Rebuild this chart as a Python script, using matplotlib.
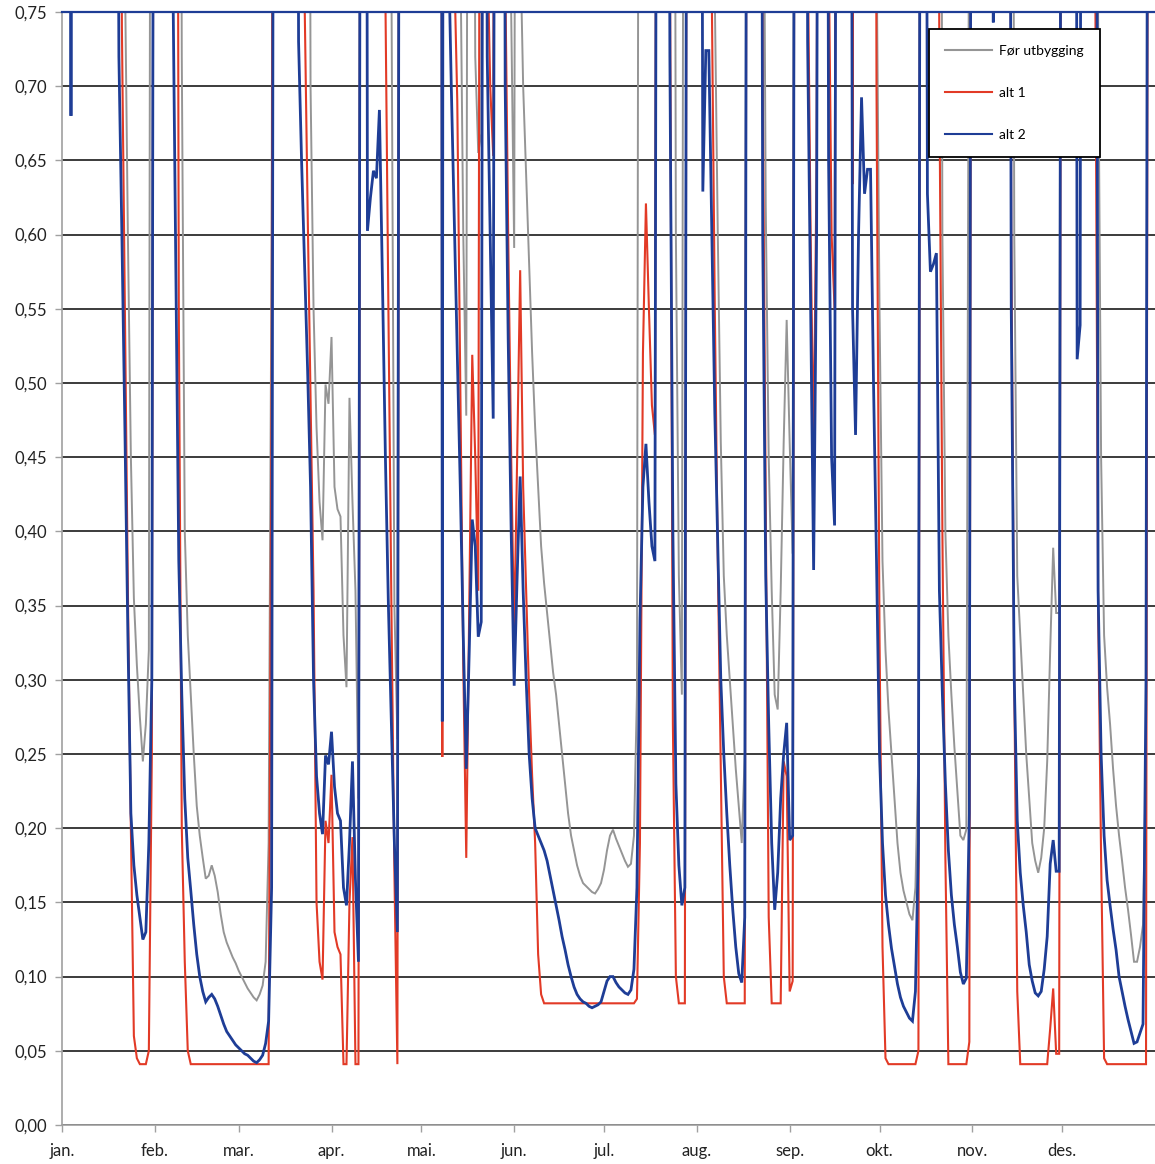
import matplotlib
matplotlib.use("Agg")
import matplotlib.pyplot as plt
from matplotlib.ticker import FuncFormatter, MultipleLocator

plt.rcParams['font.family'] = ['Lato', 'DejaVu Sans']

# day of year (0 = 1 Jan) and value; values above 0.75 run off the top of the chart
gray_pts = [
    (0, 1.5), (20, 1.5),
    (21, 0.78), (22, 0.60), (23, 0.45), (24, 0.355), (25, 0.31), (26, 0.275), (27, 0.245),
    (28, 0.27), (29, 0.32), (30, 1.5),
    (39, 1.5), (40, 0.72), (41, 0.40), (42, 0.33), (43, 0.29), (44, 0.25), (45, 0.215),
    (46, 0.195), (47, 0.18), (48, 0.166), (49, 0.168), (50, 0.175), (51, 0.168), (52, 0.157),
    (53, 0.142), (54, 0.13), (55, 0.123), (56, 0.118), (57, 0.113), (58, 0.109), (59, 0.104),
    (60, 0.10), (61, 0.096), (62, 0.092), (63, 0.089), (64, 0.086), (65, 0.084), (66, 0.088),
    (67, 0.094), (68, 0.11), (69, 0.19), (70, 0.60), (71, 1.5),
    (82, 1.5), (83, 0.70), (84, 0.55), (85, 0.47), (86, 0.42), (87, 0.394), (88, 0.499),
    (89, 0.486), (90, 0.531), (91, 0.43), (92, 0.415), (93, 0.41), (94, 0.33), (95, 0.295),
    (96, 0.49), (97, 0.42), (98, 0.36), (99, 0.22), (100, 1.5),
    (109, 1.5), (110, 0.78), (111, 0.35), (112, 0.26), (113, 1.5),
    (132, 1.5), (133, 0.80), (134, 0.60), (135, 0.478), (136, 1.5),
    (137, 1.2), (138, 0.72), (139, 0.655), (140, 0.668), (141, 1.5),
    (149, 1.5), (150, 0.75), (151, 0.591), (152, 1.5), (153, 0.80), (154, 0.70), (155, 0.64),
    (156, 0.58), (157, 0.52), (158, 0.47), (159, 0.43), (160, 0.39), (161, 0.365), (162, 0.345),
    (163, 0.325), (164, 0.305), (165, 0.29), (166, 0.27), (167, 0.25), (168, 0.23), (169, 0.21),
    (170, 0.195), (171, 0.185), (172, 0.175), (173, 0.168), (174, 0.163), (175, 0.161),
    (176, 0.159), (177, 0.157), (178, 0.156), (179, 0.159), (180, 0.163), (181, 0.172),
    (182, 0.185), (183, 0.195), (184, 0.199), (185, 0.193), (186, 0.188), (187, 0.183),
    (188, 0.178), (189, 0.174), (190, 0.176), (191, 0.195), (192, 0.29), (193, 1.5),
    (204, 1.5), (205, 0.60), (206, 0.37), (207, 0.29), (208, 1.5),
    (217, 1.5), (218, 0.76), (219, 0.60), (220, 0.46), (221, 0.37), (222, 0.33), (223, 0.30),
    (224, 0.27), (225, 0.24), (226, 0.215), (227, 0.19), (228, 0.25), (229, 1.5),
    (233, 1.5), (234, 1.0), (235, 0.62), (236, 0.45), (237, 0.36), (238, 0.29), (239, 0.28),
    (240, 0.36), (241, 0.46), (242, 0.5425), (243, 0.46), (244, 0.385), (245, 1.5),
    (271, 1.5), (272, 0.80), (273, 0.55), (274, 0.38), (275, 0.32), (276, 0.28), (277, 0.25),
    (278, 0.22), (279, 0.19), (280, 0.17), (281, 0.158), (282, 0.15), (283, 0.142),
    (284, 0.138), (285, 0.16), (286, 0.25), (287, 1.5),
    (293, 1.5), (294, 0.60), (295, 0.40), (296, 0.33), (297, 0.29), (298, 0.255), (299, 0.225),
    (300, 0.195), (301, 0.192), (302, 0.199), (303, 0.9), (304, 1.5),
    (317, 1.5), (318, 0.60), (319, 0.37), (320, 0.33), (321, 0.29), (322, 0.25), (323, 0.22),
    (324, 0.19), (325, 0.178), (326, 0.17), (327, 0.18), (328, 0.20), (329, 0.245), (330, 0.32),
    (331, 0.389), (332, 0.345), (333, 0.345), (334, 1.5),
    (345, 1.5), (346, 0.75), (347, 0.45), (348, 0.33), (349, 0.295), (350, 0.27), (351, 0.24),
    (352, 0.215), (353, 0.195), (354, 0.178), (355, 0.16), (356, 0.145), (357, 0.128),
    (358, 0.11), (359, 0.11), (360, 0.12), (361, 0.135), (362, 0.25), (363, 1.5), (365, 1.5),
]

alt1_pts = [
    (0, 1.5), (19, 1.2),
    (20, 0.74), (21, 0.55), (22, 0.36), (23, 0.20), (24, 0.06), (25, 0.045), (26, 0.041),
    (28, 0.041), (29, 0.05), (30, 0.25), (31, 1.5),
    (38, 1.5), (39, 0.55), (40, 0.20), (41, 0.11), (42, 0.05), (43, 0.041), (69, 0.041),
    (70, 0.5), (71, 1.5),
    (80, 1.5), (81, 0.76), (82, 0.62), (83, 0.49), (84, 0.36), (85, 0.15), (86, 0.11),
    (87, 0.098), (88, 0.205), (89, 0.19), (90, 0.236), (91, 0.13), (92, 0.12), (93, 0.115),
    (94, 0.041), (95, 0.041), (96, 0.15), (97, 0.194), (98, 0.041), (99, 0.041), (100, 1.5),
    (107, 1.5), (108, 0.76), (109, 0.55), (110, 0.35), (111, 0.17), (112, 0.041), (113, 1.5),
    (126, 3.0), (127, 0.248), (128, 3.0),
    (130, 1.5), (131, 0.78), (132, 0.69), (133, 0.50), (134, 0.31), (135, 0.18), (136, 0.35),
    (137, 0.519), (138, 0.45), (139, 0.36), (140, 1.5),
    (141, 1.5), (142, 0.80), (143, 0.70), (144, 0.653), (145, 1.5),
    (147, 1.5), (148, 0.78), (149, 0.60), (150, 0.45), (151, 0.33), (152, 0.45), (153, 0.576),
    (154, 0.43), (155, 0.36), (156, 0.29), (157, 0.235), (158, 0.19), (159, 0.115), (160, 0.088),
    (161, 0.082), (191, 0.082), (192, 0.085), (193, 0.19), (194, 0.52), (195, 0.621),
    (196, 0.55), (197, 0.485), (198, 0.465), (199, 1.5),
    (202, 1.5), (203, 0.80), (204, 0.27), (205, 0.10), (206, 0.082), (208, 0.082), (209, 1.5),
    (216, 1.5), (217, 0.76), (218, 0.55), (219, 0.38), (220, 0.24), (221, 0.10), (222, 0.082),
    (228, 0.082), (229, 1.5),
    (233, 1.5), (234, 0.70), (235, 0.42), (236, 0.14), (237, 0.082), (240, 0.082), (241, 0.245),
    (242, 0.235), (243, 0.09), (244, 0.097), (245, 1.5),
    (248, 1.5), (249, 0.80), (250, 0.60), (251, 0.4525), (252, 0.65), (253, 1.5),
    (255, 1.5), (256, 0.80), (257, 0.60), (258, 0.55), (259, 1.5),
    (263, 2.0), (264, 0.634), (265, 2.0),
    (271, 1.5), (272, 0.70), (273, 0.33), (274, 0.12), (275, 0.045), (276, 0.041),
    (285, 0.041), (286, 0.05), (287, 1.5),
    (292, 1.5), (293, 0.70), (294, 0.40), (295, 0.18), (296, 0.041), (302, 0.041),
    (303, 0.056), (304, 1.5),
    (316, 1.5), (317, 0.60), (318, 0.30), (319, 0.09), (320, 0.041), (329, 0.041),
    (330, 0.065), (331, 0.092), (332, 0.048), (333, 0.048), (334, 1.5),
    (344, 1.5), (345, 0.80), (346, 0.35), (347, 0.18), (348, 0.045), (349, 0.041),
    (362, 0.041), (363, 1.5), (365, 1.5),
]

alt2_pts = [
    (0, 1.5), (2, 3.0), (3, 0.68), (4, 3.0), (18, 1.2),
    (19, 0.72), (20, 0.60), (21, 0.47), (22, 0.33), (23, 0.21), (24, 0.175), (25, 0.155),
    (26, 0.14), (27, 0.125), (28, 0.13), (29, 0.19), (30, 0.30), (31, 1.5),
    (36, 1.5), (37, 0.78), (38, 0.58), (39, 0.38), (40, 0.29), (41, 0.22), (42, 0.18),
    (43, 0.158), (44, 0.135), (45, 0.115), (46, 0.10), (47, 0.09), (48, 0.083), (49, 0.086),
    (50, 0.088), (51, 0.085), (52, 0.08), (53, 0.074), (54, 0.068), (55, 0.063), (56, 0.06),
    (57, 0.057), (58, 0.054), (59, 0.052), (60, 0.05), (61, 0.048), (62, 0.047), (63, 0.045),
    (64, 0.043), (65, 0.042), (66, 0.044), (67, 0.047), (68, 0.055), (69, 0.07), (70, 0.16),
    (71, 1.5),
    (78, 1.5), (79, 0.73), (80, 0.65), (81, 0.58), (82, 0.51), (83, 0.43), (84, 0.30),
    (85, 0.235), (86, 0.21), (87, 0.196), (88, 0.249), (89, 0.243), (90, 0.265), (91, 0.228),
    (92, 0.21), (93, 0.205), (94, 0.16), (95, 0.148), (96, 0.19), (97, 0.245), (98, 0.165),
    (99, 0.11), (100, 1.5),
    (101, 2.0), (102, 0.6025), (103, 0.625), (104, 0.643), (105, 0.638), (106, 0.684),
    (107, 0.57), (108, 0.45), (109, 0.35), (110, 0.27), (111, 0.19), (112, 0.13), (113, 1.5),
    (126, 3.0), (127, 0.272), (128, 3.0),
    (129, 0.80), (130, 0.70), (131, 0.61), (132, 0.52), (133, 0.43), (134, 0.33), (135, 0.24),
    (136, 0.32), (137, 0.408), (138, 0.39), (139, 0.329), (140, 0.339), (141, 1.5),
    (142, 0.72), (143, 0.60), (144, 0.476), (145, 1.5),
    (147, 1.5), (148, 0.70), (149, 0.53), (150, 0.40), (151, 0.296), (152, 0.37), (153, 0.437),
    (154, 0.36), (155, 0.30), (156, 0.25), (157, 0.22), (158, 0.20), (159, 0.195), (160, 0.19),
    (161, 0.185), (162, 0.178), (163, 0.168), (164, 0.158), (165, 0.148), (166, 0.138),
    (167, 0.127), (168, 0.118), (169, 0.108), (170, 0.10), (171, 0.093), (172, 0.088),
    (173, 0.085), (174, 0.083), (175, 0.082), (176, 0.08), (177, 0.079), (178, 0.08),
    (179, 0.081), (180, 0.083), (181, 0.09), (182, 0.097), (183, 0.10), (184, 0.10),
    (185, 0.096), (186, 0.093), (187, 0.091), (188, 0.089), (189, 0.088), (190, 0.091),
    (191, 0.105), (192, 0.16), (193, 0.34), (194, 0.43), (195, 0.459), (196, 0.42),
    (197, 0.39), (198, 0.38), (199, 1.5),
    (202, 1.5), (203, 0.72), (204, 0.40), (205, 0.23), (206, 0.175), (207, 0.148), (208, 0.16),
    (209, 1.5),
    (213, 1.5), (214, 0.629), (215, 0.724), (216, 0.724), (217, 0.60), (218, 0.48), (219, 0.39),
    (220, 0.30), (221, 0.25), (222, 0.21), (223, 0.175), (224, 0.145), (225, 0.12),
    (226, 0.102), (227, 0.096), (228, 0.14), (229, 1.5),
    (233, 1.5), (234, 0.60), (235, 0.37), (236, 0.27), (237, 0.19), (238, 0.145), (239, 0.17),
    (240, 0.22), (241, 0.25), (242, 0.271), (243, 0.192), (244, 0.195), (245, 1.5),
    (248, 1.5), (249, 0.73), (250, 0.55), (251, 0.374), (252, 0.60), (253, 1.5),
    (255, 1.5), (256, 0.65), (257, 0.45), (258, 0.404), (259, 1.5),
    (263, 1.5), (264, 0.55), (265, 0.465), (266, 0.60), (267, 0.6925), (268, 0.6275),
    (269, 0.644), (270, 0.644), (271, 0.50), (272, 0.38), (273, 0.25), (274, 0.19),
    (275, 0.155), (276, 0.135), (277, 0.119), (278, 0.107), (279, 0.095), (280, 0.086),
    (281, 0.08), (282, 0.076), (283, 0.072), (284, 0.07), (285, 0.09), (286, 0.19), (287, 1.5),
    (288, 1.5), (289, 0.6275), (290, 0.575), (291, 0.58), (292, 0.5875), (293, 0.36),
    (294, 0.29), (295, 0.23), (296, 0.185), (297, 0.155), (298, 0.135), (299, 0.12),
    (300, 0.103), (301, 0.095), (302, 0.099), (303, 0.21), (304, 1.5),
    (310, 3.0), (311, 0.743), (312, 3.0),
    (316, 1.5), (317, 0.55), (318, 0.30), (319, 0.205), (320, 0.17), (321, 0.148), (322, 0.13),
    (323, 0.108), (324, 0.097), (325, 0.089), (326, 0.087), (327, 0.09), (328, 0.105),
    (329, 0.127), (330, 0.176), (331, 0.192), (332, 0.171), (333, 0.171), (334, 1.5),
    (338, 2.0), (339, 0.516), (340, 0.539), (341, 2.0),
    (345, 1.5), (346, 0.36), (347, 0.25), (348, 0.195), (349, 0.165), (350, 0.148),
    (351, 0.132), (352, 0.118), (353, 0.10), (354, 0.09), (355, 0.08), (356, 0.071),
    (357, 0.063), (358, 0.055), (359, 0.056), (360, 0.062), (361, 0.068), (362, 0.30),
    (363, 1.5), (365, 1.5),
]

month_start = [0, 31, 59, 90, 120, 151, 181, 212, 243, 273, 304, 334]
month_lbl = ['jan.', 'feb.', 'mar.', 'apr.', 'mai.', 'jun.', 'jul.', 'aug.',
             'sep.', 'okt.', 'nov.', 'des.']

series = [
    ('Før utbygging', gray_pts, '#959595', 1.4),
    ('alt 1', alt1_pts, '#e23a26', 1.5),
    ('alt 2', alt2_pts, '#1e3d96', 2.0),
]

fig = plt.figure(figsize=(11.55, 11.64), dpi=100)
ax = fig.add_axes([62 / 1155, 39 / 1164, 1 - 62 / 1155, (1125 - 12) / 1164])

for name, pts, col, lw in series:
    d, v = zip(*pts)
    ax.plot(d, v, color=col, lw=lw, label=name, solid_joinstyle='miter')

ax.set_xlim(0, 365)
ax.set_ylim(0, 0.75)
ax.yaxis.set_major_locator(MultipleLocator(0.05))
ax.yaxis.set_major_formatter(FuncFormatter(lambda y, p: f'{y:.2f}'.replace('.', ',')))
ax.set_xticks(month_start)
ax.set_xticklabels(month_lbl)

ax.grid(axis='y', color='#1a1a1a', lw=1.2)
ax.set_axisbelow(True)
ax.get_ygridlines()[0].set_visible(False)

ax.spines['right'].set_visible(False)
ax.spines['top'].set_color('#1e3d96')
ax.spines['top'].set_linewidth(1.6)
for s in ('left', 'bottom'):
    ax.spines[s].set_color('#a0a0a0')
    ax.spines[s].set_linewidth(1.2)

ax.tick_params(axis='y', length=5, width=1, color='#a0a0a0', pad=6,
               labelsize=12, labelcolor='#222222')
ax.tick_params(axis='x', length=5, width=1, color='#a0a0a0', pad=8,
               labelsize=12, labelcolor='#222222')

leg = ax.legend(loc='upper left', bbox_to_anchor=(929 / 1155, 1 - 29 / 1164),
                bbox_transform=fig.transFigure, fontsize=10, frameon=True,
                fancybox=False, edgecolor='black', framealpha=1,
                labelspacing=2.15, handlelength=3.4, handletextpad=0.5,
                borderpad=1.15, borderaxespad=0)
leg.get_frame().set_linewidth(1.3)
for line in leg.get_lines():
    line.set_linewidth(1.5)

fig.savefig('out.png', dpi=100)
